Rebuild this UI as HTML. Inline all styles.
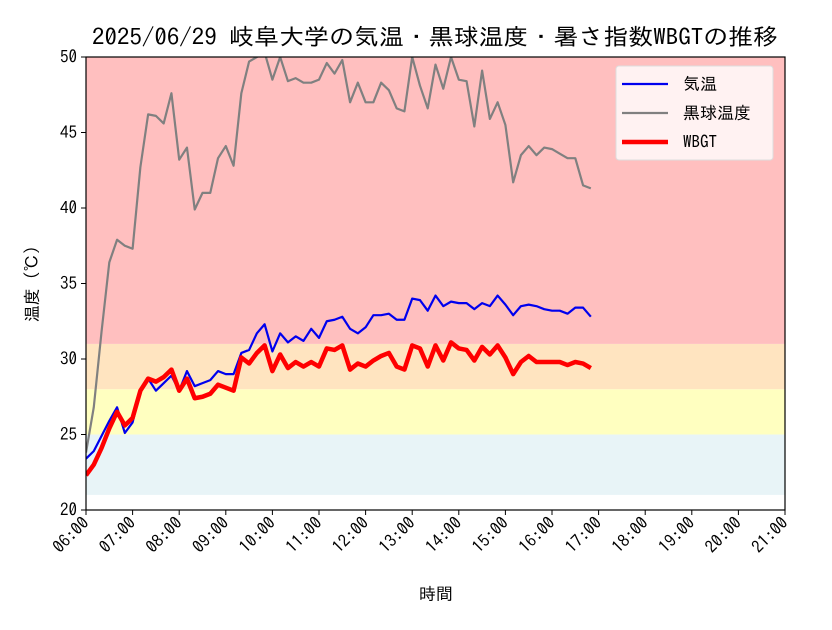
<!DOCTYPE html>
<html><head><meta charset="utf-8"><style>
html,body{margin:0;padding:0;background:#fff}
svg text{font-family:"IPAGothic","Liberation Sans","Noto Sans CJK JP",sans-serif;fill:#000}
</style></head><body>
<svg id="chart" width="832" height="625" xmlns="http://www.w3.org/2000/svg"></svg>
<script>
const xTickLabels=["06:00","07:00","08:00","09:00","10:00","11:00","12:00","13:00","14:00","15:00","16:00","17:00","18:00","19:00","20:00","21:00"];
const yTicks=[20,25,30,35,40,45,50];
const airTemp=[23.4,23.9,24.9,25.9,26.8,25.1,25.8,27.9,28.7,27.9,28.4,28.9,27.9,29.2,28.2,28.4,28.6,29.2,29.0,29.0,30.4,30.6,31.7,32.3,30.5,31.7,31.1,31.5,31.2,32.0,31.4,32.5,32.6,32.8,32.0,31.7,32.1,32.9,32.9,33.0,32.6,32.6,34.0,33.9,33.2,34.2,33.5,33.8,33.7,33.7,33.3,33.7,33.5,34.2,33.6,32.9,33.5,33.6,33.5,33.3,33.2,33.2,33.0,33.4,33.4,32.8];
const globeTemp=[23.8,26.8,31.8,36.4,37.9,37.5,37.3,42.7,46.2,46.1,45.6,47.6,43.2,44.0,39.9,41.0,41.0,43.3,44.1,42.8,47.6,49.7,50.0,50.3,48.5,50.0,48.4,48.6,48.3,48.3,48.5,49.6,48.9,49.8,47.0,48.3,47.0,47.0,48.3,47.8,46.6,46.4,50.0,48.1,46.6,49.5,47.9,50.0,48.5,48.4,45.4,49.1,45.9,47.0,45.5,41.7,43.5,44.1,43.5,44.0,43.9,43.6,43.3,43.3,41.5,41.3];
const wbgt=[22.3,23.0,24.1,25.4,26.5,25.6,26.1,27.9,28.7,28.5,28.8,29.3,27.9,28.7,27.4,27.5,27.7,28.3,28.1,27.9,30.1,29.7,30.4,30.9,29.2,30.3,29.4,29.8,29.5,29.8,29.5,30.7,30.6,30.9,29.3,29.7,29.5,29.9,30.2,30.4,29.5,29.3,30.9,30.7,29.5,30.9,29.9,31.1,30.7,30.6,29.9,30.8,30.3,30.9,30.1,29.0,29.8,30.2,29.8,29.8,29.8,29.8,29.6,29.8,29.7,29.4];
const bands=[[21,25,"#e8f4f7"],[25,28,"#ffffc0"],[28,31,"#ffe4c0"],[31,50,"#ffbfbf"]];
const bandNames=["band-safe","band-caution","band-warning","band-danger"];

const NS="http://www.w3.org/2000/svg";
const svg=document.getElementById('chart');
const L=86,R=785,T=57,B=510,yMin=20,yMax=50,hMin=6,hMax=21;
const xs=h=>L+(h-hMin)/(hMax-hMin)*(R-L);
const ys=v=>B-(v-yMin)/(yMax-yMin)*(B-T);
function mk(tag,attrs,parent){const e=document.createElementNS(NS,tag);for(const k in attrs)e.setAttribute(k,attrs[k]);(parent||svg).appendChild(e);return e;}

const defs=mk('defs',{});
const cp=mk('clipPath',{id:'clip'},defs);mk('rect',{x:L,y:T,width:R-L,height:B-T},cp);

const title=mk('text',{x:92,y:45,'font-size':23,textLength:686,lengthAdjust:'spacingAndGlyphs'});


title.textContent='2025/06/29 岐阜大学の気温・黒球温度・暑さ指数WBGTの推移';

bands.forEach((b,i)=>{
  const r=mk('rect',{x:L,y:ys(b[1]),width:R-L,height:ys(b[0])-ys(b[1]),fill:b[2]});
  
  
});

function series(arr,color,w,name){
  const d=arr.map((v,i)=>(i?'L':'M')+xs(hMin+i/6).toFixed(2)+','+ys(v).toFixed(2)).join(' ');
  const p=mk('path',{d:d,fill:'none',stroke:color,'stroke-width':w,'stroke-linejoin':'round','clip-path':'url(#clip)'});
  
  
}
series(globeTemp,'#808080',2.2,'globe-temp-line');
series(airTemp,'#0000ee',2.2,'air-temp-line');
series(wbgt,'#ff0000',4.5,'wbgt-line');

const frame=mk('rect',{x:L,y:T,width:R-L,height:B-T,fill:'none',stroke:'#000','stroke-width':1.2});



yTicks.forEach(v=>{
  mk('line',{x1:L-5,x2:L,y1:ys(v),y2:ys(v),stroke:'#000','stroke-width':1});
  const t=mk('text',{x:L-9,y:ys(v)+6,'font-size':17,'text-anchor':'end'});
  
  
  t.textContent=v;
});
xTickLabels.forEach((lab,i)=>{
  const x=xs(hMin+i);
  mk('line',{x1:x,x2:x,y1:B,y2:B+5,stroke:'#000','stroke-width':1});
  const t=mk('text',{x:x+4,y:B+14,'font-size':17,'text-anchor':'end',transform:`rotate(-45 ${x+4} ${B+14})`});
  
  
  t.textContent=lab;
});
const xt=mk('text',{x:436,y:600,'font-size':17,'text-anchor':'middle'});


xt.textContent='時間';
const yt=mk('text',{x:38,y:284,'font-size':17,'text-anchor':'middle',transform:'rotate(-90 38 284)'});


yt.textContent='温度 (℃)';

const lg=mk('g',{});


mk('rect',{x:616,y:66,width:157,height:94,rx:3,fill:'#fff',
  'fill-opacity':0.8,stroke:'#ddd'},lg);
[['気温','#0000ee',2.2],['黒球温度','#808080',2.2],['WBGT','#ff0000',4.5]].forEach((e,i)=>{
  const y=84+i*29;
  const g=mk('g',{},lg);
  
  
  mk('line',{x1:622,x2:668,y1:y,y2:y,stroke:e[1],'stroke-width':e[2]},g);
  const t=mk('text',{x:683,y:y+6,'font-size':17},g);
  t.textContent=e[0];
});
</script>
</body></html>
